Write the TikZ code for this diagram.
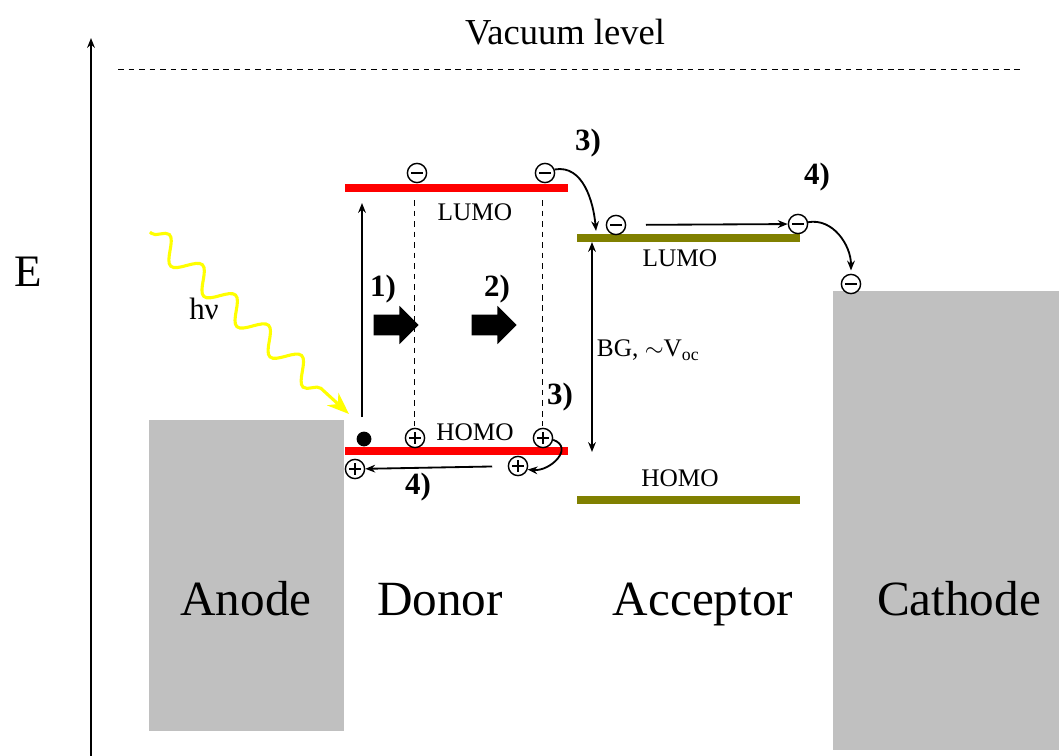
\documentclass[tikz,border=0pt]{standalone}
\usepackage{fontspec}
\setmainfont{Liberation Serif}
\usetikzlibrary{arrows.meta,positioning,decorations.pathmorphing,shapes.arrows}
\definecolor{donorcol}{HTML}{FF0000}
\definecolor{acccol}{HTML}{808000}
\definecolor{metcol}{HTML}{C0C0C0}
\definecolor{photcol}{HTML}{FFFF00}

\begin{document}
\begin{tikzpicture}[x=0.025cm,y=-0.025cm,>={Stealth[length=7pt,width=5.5pt]},
    conn/.style={line width=1.3pt},
    dashln/.style={line width=0.7pt,dash pattern=on 4pt off 3.5pt},
    elec/.style={circle,draw,line width=1pt,fill=white,minimum size=0.48cm,inner sep=0pt,
      path picture={\draw[line width=1.6pt]
        ([xshift=-0.14cm]path picture bounding box.center) -- ([xshift=0.14cm]path picture bounding box.center);}},
    hole/.style={circle,draw,line width=1pt,fill=white,minimum size=0.48cm,inner sep=0pt,
      path picture={\draw[line width=1.6pt]
        ([xshift=-0.14cm]path picture bounding box.center) -- ([xshift=0.14cm]path picture bounding box.center)
        ([yshift=-0.14cm]path picture bounding box.center) -- ([yshift=0.14cm]path picture bounding box.center);}},
    steplbl/.style={font=\fontsize{22}{24}\selectfont\bfseries},
    lvllbl/.style={font=\fontsize{18}{20}\selectfont},
    layerlbl/.style={font=\fontsize{35}{38}\selectfont,anchor=base},
    fatarrow/.style={single arrow,fill=black,minimum height=1.12cm,minimum width=0.95cm,
      inner sep=0.25cm,single arrow head extend=0.22cm}]
  \useasboundingbox (0,0) rectangle (1059,756);
  % energy axis and vacuum level
  \coordinate (ebot) at (91,756);
  \coordinate (etop) at (91,38);
  \draw[->,conn] (ebot) -- (etop);
  \node[font=\fontsize{32}{34}\selectfont] (elbl) at (28,272) {E};
  \node[font=\fontsize{26}{28}\selectfont] (vac) at (565,32) {Vacuum level};
  \draw[dashln] (118,69) -- (1022,69);
  % electrodes
  \fill[metcol] (149,420) rectangle (344,731);
  \fill[metcol] (833,291) rectangle (1059,750);
  \node[layerlbl] (anode) at (246,615) {Anode};
  \node[layerlbl] (donor) at (440,615) {Donor};
  \node[layerlbl] (acceptor) at (703,615) {Acceptor};
  \node[layerlbl] (cathode) at (959,615) {Cathode};
  % levels
  \draw[donorcol,line width=5.3pt] (345,188) -- (568,188);
  \draw[donorcol,line width=5.3pt] (345,451) -- (568,451);
  \draw[acccol,line width=5pt] (577,238) -- (800,238);
  \draw[acccol,line width=5pt] (577,500) -- (800,500);
  \node[lvllbl] (dlumo) at (475,212) {LUMO};
  \node[lvllbl] (dhomo) at (475,432) {HOMO};
  \node[lvllbl] (alumo) at (680,258) {LUMO};
  \node[lvllbl] (ahomo) at (680,478) {HOMO};
  % photon
  \coordinate (phstart) at (150,232);
  \coordinate (phend) at (349,414);
  \draw[photcol,line width=2.2pt,-{Stealth[length=0.55cm,width=0.42cm]},
    decorate,decoration={snake,amplitude=0.28cm,segment length=1.12cm,pre length=0.05cm,post length=0.5cm}]
    (phstart) -- (phend);
  \node[font=\fontsize{22}{24}\selectfont] (hnu) at (204,309) {hν};
  % charges
  \node[elec] (e1) at (417,173) {};
  \node[elec] (e2) at (545,173) {};
  \node[elec] (e3) at (616,225) {};
  \node[elec] (e4) at (798,224) {};
  \node[elec] (e5) at (851,284) {};
  \node[hole] (h1) at (415,438) {};
  \node[hole] (h2) at (543,438) {};
  \node[hole] (h3) at (518,466) {};
  \node[hole] (h4) at (355,469) {};
  \node[circle,fill=black,minimum size=0.37cm,inner sep=0pt] (exc) at (364,439) {};
  % excitation and diffusion
  \coordinate (excbot) at (362,417);
  \coordinate (exctop) at (362,203);
  \draw[->,conn] (excbot) -- (exctop);
  \draw[dashln] (414,200) -- (414,426);
  \draw[dashln] (542,200) -- (542,426);
  \node[fatarrow] (fa1) at (391,325) {};
  \node[fatarrow] (fa2) at (489,325) {};
  \node[steplbl] (s1) at (383,289) {1)};
  \node[steplbl] (s2) at (497,289) {2)};
  % charge transfer
  \coordinate (ctend) at (596,231);
  \draw[->,conn] (e2.20) to[out=10,in=95] (ctend);
  \node[steplbl] (s3a) at (588,143) {3)};
  \draw[->,conn] (h2.-10) to[out=-20,in=-5,looseness=1.5] (h3.-20);
  \node[steplbl] (s3b) at (560,397) {3)};
  % band gap
  \coordinate (bgtop) at (592,242);
  \coordinate (bgbot) at (592,452);
  \draw[<->,conn] (bgtop) -- (bgbot);
  \node[lvllbl,anchor=west] (bg) at (592,350) {BG, $\sim$V\textsubscript{oc}};
  % transport to electrodes
  \draw[->,conn,shorten <=14pt] (e3) -- (e4);
  \draw[->,conn] (e4.10) to[out=10,in=90] ([yshift=0.08cm]e5.north);
  \node[steplbl] (s4a) at (817,177) {4)};
  \draw[->,conn,shorten <=11pt] (h3) -- (h4);
  \node[steplbl] (s4b) at (418,487) {4)};
\end{tikzpicture}
\end{document}
